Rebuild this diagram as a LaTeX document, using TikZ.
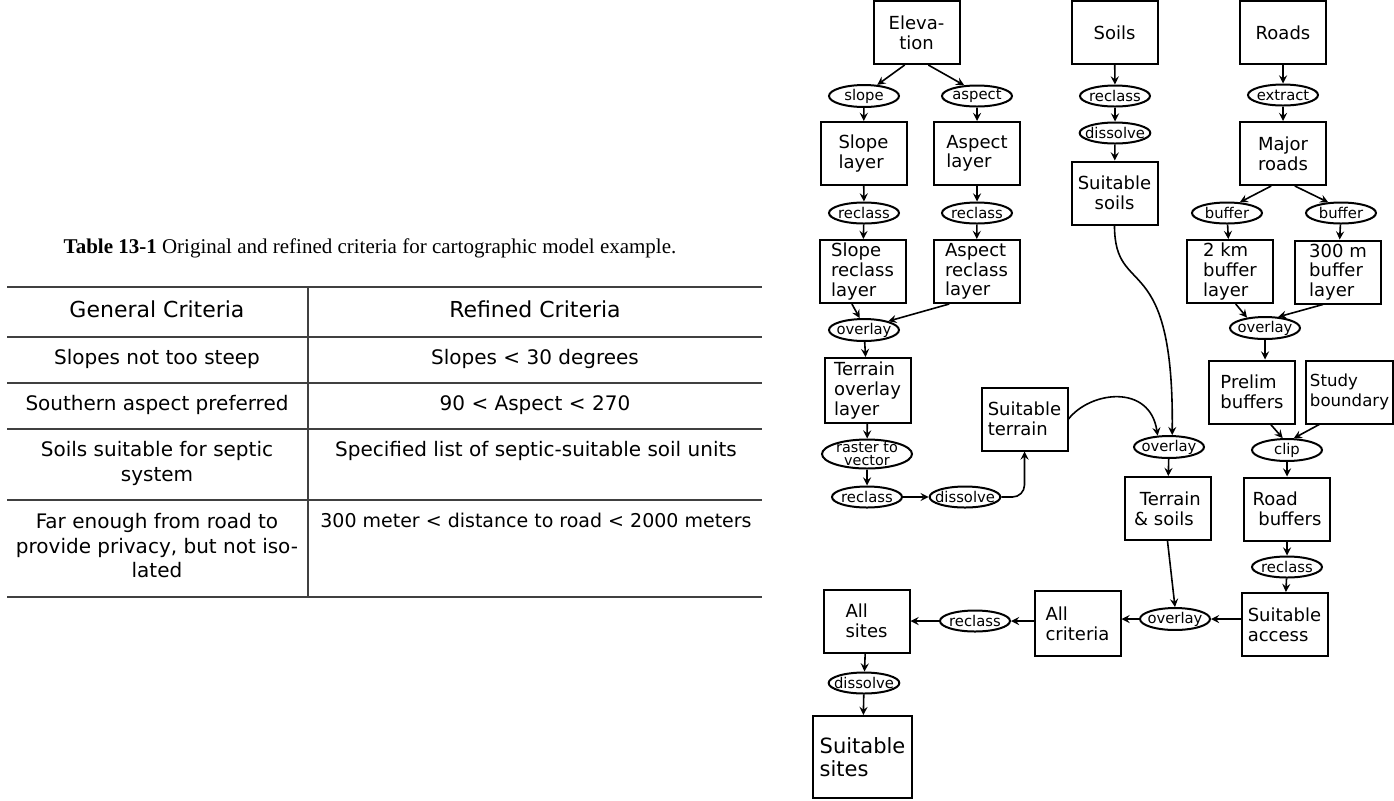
\documentclass[tikz,border=0pt]{standalone}
\usepackage{fontspec}
\setmainfont{DejaVu Sans}
\newfontfamily\capfont{Liberation Serif}
\usetikzlibrary{shapes.geometric}

\tikzset{
  layer/.style={draw, line width=1pt, minimum width=43pt, minimum height=31.5pt, inner sep=1pt, align=left, font=\fontsize{9}{9.8}\selectfont},
  op/.style={draw, ellipse, line width=1pt, minimum width=35pt, minimum height=10.5pt, inner xsep=-2.5pt, inner ysep=0.3pt, align=center, font=\fontsize{7.4}{6.8}\selectfont},
  cell/.style={anchor=north, inner sep=0pt, align=center, font=\fontsize{10}{12.2}\selectfont},
  rule/.style={line width=0.6pt, black!75},
}

\begin{document}
\begin{tikzpicture}[x=0.5pt, y=-0.5pt]
  \useasboundingbox (0,0) rectangle (1394,800);
  % criteria table
  \node[anchor=base, inner sep=0pt, font=\capfont\fontsize{10.5}{12}\selectfont] (caption) at (370,253) {\textbf{Table 13-1} Original and refined criteria for cartographic model example.};
  \foreach \y in {287,337,383,429,500,597}
    \draw[rule] (7,\y) -- (762,\y);
  \draw[rule] (308,287) -- (308,597);
  \node[cell, font=\fontsize{11}{13}\selectfont] (gen) at (157,300) {General Criteria};
  \node[cell, font=\fontsize{11}{13}\selectfont] (ref) at (535,300) {Refined Criteria};
  \node[cell] (g1) at (157,349) {Slopes not too steep};
  \node[cell] (r1) at (535,349) {Slopes < 30 degrees};
  \node[cell] (g2) at (157,395) {Southern aspect preferred};
  \node[cell] (r2) at (535,395) {90 < Aspect < 270};
  \node[cell] (g3) at (157,441) {Soils suitable for septic\\system};
  \node[cell] (r3) at (536,441) {Specified list of septic-suitable soil units};
  \node[cell] (g4) at (157,513) {Far enough from road to\\provide privacy, but not iso-\\lated};
  \node[cell, font=\fontsize{9.5}{12}\selectfont] (r4) at (536,513) {300 meter < distance to road < 2000 meters};

  % cartographic model
  \node[layer, align=center] (elev) at (916.5,32.5) {Eleva-\\tion};
  \node[layer, align=center] (soils) at (1114.5,32.5) {Soils};
  \node[layer, align=center] (roads) at (1283,32.5) {Roads};
  \node[op] (slope) at (864,96) {slope};
  \node[op] (aspect) at (977,96) {aspect};
  \node[op] (sreclass) at (1115,96) {reclass};
  \node[op] (extract) at (1283,95) {extract};
  \node[op] (sdiss) at (1115,133) {dissolve};
  \node[layer] (slopel) at (863.5,153.5) {Slope\\layer};
  \node[layer] (aspectl) at (977,153.5) {Aspect\\layer};
  \node[layer, align=center] (major) at (1283,153.5) {Major\\roads};
  \node[layer, align=center] (ssoils) at (1114.5,193) {Suitable\\soils};
  \node[op] (rc1) at (864,213) {reclass};
  \node[op] (rc2) at (977,213) {reclass};
  \node[op] (b1) at (1227,213) {buffer};
  \node[op] (b2) at (1341,213) {buffer};
  \node[layer] (slrc) at (862.5,271.5) {Slope\\reclass\\layer};
  \node[layer] (asrc) at (976.5,271.5) {Aspect\\reclass\\layer};
  \node[layer] (km2) at (1230,271.5) {2 km\\buffer\\layer};
  \node[layer] (m300) at (1338,272) {300 m\\buffer\\layer};
  \node[op] (ov1) at (864,330) {overlay};
  \node[op] (ov4) at (1265,328) {overlay};
  \node[layer, minimum height=32.5pt] (terrov) at (867.5,390.5) {Terrain\\overlay\\layer};
  \node[layer] (prelim) at (1252,392) {Prelim\\buffers};
  \node[layer, minimum width=43.5pt, font=\fontsize{8.3}{9.8}\selectfont] (study) at (1349.5,392) {Study\\boundary};
  \node[layer] (sterr) at (1024.5,419) {Suitable\\terrain};
  \node[op] (ov2) at (1169,447) {overlay};
  \node[op] (clip) at (1287,450) {clip};
  \node[op, minimum width=45pt, minimum height=14.5pt] (r2v) at (867,454) {};
  \node[inner sep=0pt, align=center, font=\fontsize{7.2}{6.6}\selectfont] (r2vtext) at (r2v) {raster to\\vector};
  \node[layer] (tsoil) at (1167.5,508.5) {\ Terrain\\\& soils};
  \node[layer] (rbuf) at (1287,509) {Road\\\ buffers};
  \node[op] (rc3) at (867,497) {reclass};
  \node[op] (diss) at (965,497) {dissolve};
  \node[op] (rc4) at (1287,567) {reclass};
  \node[layer] (acc) at (1284.5,624.5) {Suitable\\access};
  \node[op] (ov3) at (1175,619) {overlay};
  \node[layer, minimum height=32.5pt] (allcrit) at (1077.5,623.5) {All\\criteria};
  \node[op] (rc5) at (975,621) {reclass};
  \node[layer] (allsites) at (866.5,621) {All\\sites};
  \node[op] (diss2) at (864,683) {dissolve};
  \node[layer, minimum width=49.5pt, minimum height=41pt, font=\fontsize{10.5}{11.5}\selectfont] (ssites) at (862.5,757) {Suitable\\sites};

  \path[-stealth, line width=0.8pt]
    (elev.250) edge (slope.40)
    (elev.290) edge (aspect.140)
    (slope) edge (slopel)
    (aspect) edge (aspectl)
    (slopel) edge (rc1)
    (aspectl) edge (rc2)
    (rc1) edge (slrc)
    (rc2) edge (asrc)
    (slrc.252) edge (ov1.110)
    (asrc.230) edge (ov1.20)
    (ov1) edge (terrov)
    (terrov) edge (r2v)
    (r2v) edge (rc3)
    (rc3) edge (diss)
    (soils) edge (sreclass)
    (sreclass) edge (sdiss)
    (sdiss) edge (ssoils)
    (roads) edge (extract)
    (extract) edge (major)
    (major.250) edge (b1.40)
    (major.290) edge (b2.140)
    (b1) edge (km2)
    (b2) edge (m300)
    (km2.280) edge (ov4.150)
    (m300.245) edge (ov4.40)
    (ov4) edge (ov4 |- prelim.north)
    (prelim.300) edge (clip.110)
    (study.227) edge (clip.60)
    (clip) edge (rbuf)
    (rbuf) edge (rc4)
    (rc4) edge (acc)
    (ov2) edge (tsoil)
    (tsoil.south) edge (ov3.north)
    (ov3 -| acc.west) edge (ov3)
    (ov3) edge (ov3 -| allcrit.east)
    (allcrit.west |- rc5) edge (rc5)
    (rc5) edge (rc5 -| allsites.east)
    (allsites) edge (diss2)
    (diss2) edge (ssites);
  \draw[-stealth, line width=0.8pt, rounded corners=6pt] (diss.east) -| (sterr.south);
  \draw[-stealth, line width=0.8pt] (sterr.east) .. controls +(22,-28) and +(-8,-52) .. (ov2.135);
  \draw[-stealth, line width=0.8pt] (ssoils.south) .. controls +(0,75) and +(2,-190) .. (ov2.75);
\end{tikzpicture}
\end{document}
